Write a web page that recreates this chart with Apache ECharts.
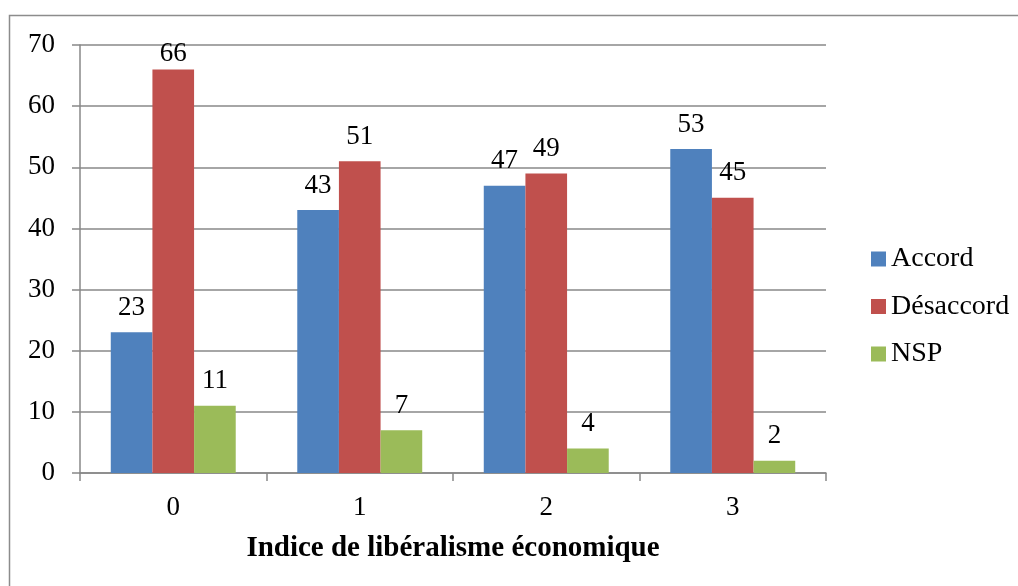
<!DOCTYPE html>
<html><head><meta charset="utf-8">
<script src="https://cdn.jsdelivr.net/npm/echarts@6/dist/echarts.min.js"></script>
<style>html,body{margin:0;padding:0;background:#fff}#c{width:1018px;height:586px}</style>
</head><body><div id="c"></div>
<script>
const categories = ['0', '1', '2', '3'];
const accord = [23, 43, 47, 53];
const desaccord = [66, 51, 49, 45];
const nsp = [11, 7, 4, 2];
const seriesNames = ['Accord', 'Désaccord', 'NSP'];
const xTitle = 'Indice de libéralisme économique';

const FONT = 'Liberation Serif';
const Y_MAX = 70;
const chart = echarts.init(document.getElementById('c'));
const lbl = {show: true, position: 'top', distance: 11, color: '#000', fontFamily: FONT, fontSize: 27};
// labels near the top of the plot are pushed down to stay inside it (as the source does)
const withLabels = arr => arr.map(v => v > Y_MAX - 6 ? {value: v, label: {distance: 2}} : v);
chart.setOption({
  animation: false,
  textStyle: {fontFamily: FONT},
  graphic: [{type: 'rect', shape: {x: 9.5, y: 15.5, width: 1030, height: 600}, style: {fill: 'none', stroke: '#8c8c8c', lineWidth: 1.5}, z: -1}],
  grid: {left: 80, top: 45, right: 192, bottom: 113},
  legend: {
    orient: 'vertical', left: 866, top: 240, itemWidth: 15, itemHeight: 15, itemGap: 19.5,
    icon: 'rect', textStyle: {fontFamily: FONT, fontSize: 28, color: '#000'},
    data: seriesNames
  },
  xAxis: {
    type: 'category', data: categories,
    name: xTitle, nameLocation: 'middle', nameGap: 61,
    nameTextStyle: {fontFamily: FONT, fontSize: 29, fontWeight: 'bold', color: '#000'},
    axisLine: {lineStyle: {color: '#888', width: 1.5}},
    axisTick: {show: true, length: 8, lineStyle: {color: '#888', width: 1.5}},
    axisLabel: {fontFamily: FONT, fontSize: 27, color: '#000', margin: 21}
  },
  yAxis: {
    type: 'value', min: 0, max: Y_MAX, interval: 10,
    axisLine: {show: true, lineStyle: {color: '#888', width: 1.5}},
    axisTick: {show: true, length: 8, lineStyle: {color: '#888', width: 1.5}},
    splitLine: {lineStyle: {color: '#888', width: 1.5}},
    axisLabel: {fontFamily: FONT, fontSize: 27, color: '#000', margin: 25}
  },
  series: [
    {name: seriesNames[0], type: 'bar', data: withLabels(accord), barGap: '0%', barCategoryGap: '33%', itemStyle: {color: '#4F81BD'}, label: lbl},
    {name: seriesNames[1], type: 'bar', data: withLabels(desaccord), itemStyle: {color: '#C0504D'}, label: lbl},
    {name: seriesNames[2], type: 'bar', data: withLabels(nsp), itemStyle: {color: '#9BBB59'}, label: lbl}
  ]
});
</script></body></html>
